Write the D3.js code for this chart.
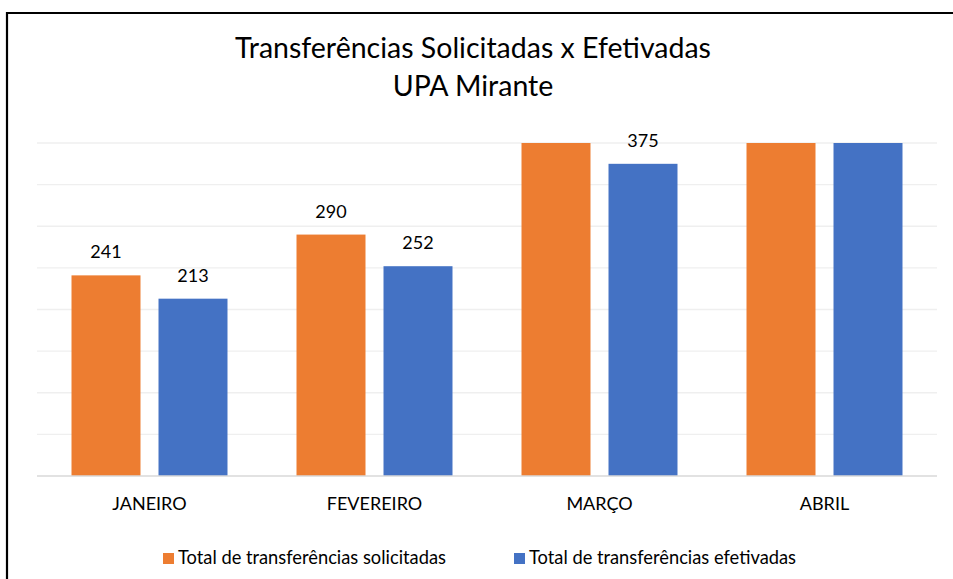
<!DOCTYPE html>
<html>
<head>
<meta charset="utf-8">
<script src="https://cdn.jsdelivr.net/npm/d3@7"></script>
<style>
  body { margin: 0; background: #fff; }
  svg text { font-family: Lato, "Open Sans", sans-serif; fill: #000; }
</style>
</head>
<body>
<div id="chart"></div>
<script>
var months = ['JANEIRO', 'FEVEREIRO', 'MARÇO', 'ABRIL'];
var seriesNames = ['Total de transferências solicitadas', 'Total de transferências efetivadas'];
// values beyond the axis max are cut off in the original, estimated
var solicitadas = [241, 290, 430, 440];
var efetivadas = [213, 252, 375, 425];
var yTicks = [0, 50, 100, 150, 200, 250, 300, 350, 400];
var colors = ['#ed7d31', '#4472c4'];

var width = 953;
var height = 579;
var margins = { top: 143, right: 16, bottom: 103, left: 37 };

var rows = months.map(function (m, i) {
  return { month: m, values: [solicitadas[i], efetivadas[i]] };
});

var svg = d3.select('#chart')
  .append('svg')
  .attr('width', width)
  .attr('height', height);

// outer frame (only left and top edges are inside the picture)
svg.append('path')
  .attr('d', 'M7,579 V13 H953')
  .attr('fill', 'none')
  .attr('stroke', '#000')
  .attr('stroke-width', 2.2);

var x0 = d3.scaleBand()
  .domain(months)
  .range([margins.left, width - margins.right])
  .padding(0);

var x1 = d3.scaleBand()
  .domain([0, 1])
  .range([0, x0.bandwidth()])
  .paddingInner(0.207)
  .paddingOuter(0.3966);

var y = d3.scaleLinear()
  .domain([0, 400])
  .range([height - margins.bottom, margins.top])
  .clamp(true);

// gridlines
svg.append('g')
  .selectAll('line')
  .data(yTicks.slice(1))
  .enter()
  .append('line')
  .attr('x1', margins.left)
  .attr('x2', width - margins.right)
  .attr('y1', d => y(d))
  .attr('y2', d => y(d))
  .attr('stroke', '#efefef')
  .attr('stroke-width', 1.3);

// title
var title = svg.append('text')
  .attr('x', 473)
  .attr('text-anchor', 'middle')
  .style('font-size', '28.5px');
title.append('tspan').attr('x', 473).attr('y', 58).text('Transferências Solicitadas x Efetivadas');
title.append('tspan').attr('x', 473).attr('y', 96).text('UPA Mirante');

// bars
var groups = svg.append('g')
  .selectAll('g')
  .data(rows)
  .enter()
  .append('g')
  .attr('transform', d => `translate(${x0(d.month)},0)`);

groups.selectAll('rect')
  .data(d => d.values.map((v, i) => ({ v, i })))
  .enter()
  .append('rect')
  .attr('x', d => x1(d.i))
  .attr('width', x1.bandwidth())
  .attr('y', d => y(d.v))
  .attr('height', d => y(0) - y(d.v))
  .attr('fill', d => colors[d.i]);

// data labels, hidden where the bar runs past the axis
groups.selectAll('.label')
  .data(d => d.values.map((v, i) => ({ v, i })).filter(d => d.v <= 400))
  .enter()
  .append('text')
  .attr('class', 'label')
  .attr('x', d => x1(d.i) + x1.bandwidth() / 2)
  .attr('y', d => y(d.v) - 17)
  .attr('text-anchor', 'middle')
  .style('font-size', '18px')
  .text(d => d.v);

// baseline
svg.append('line')
  .attr('x1', margins.left)
  .attr('x2', width - margins.right)
  .attr('y1', y(0))
  .attr('y2', y(0))
  .attr('stroke', '#d9d9d9')
  .attr('stroke-width', 1.5);

// x axis labels
svg.append('g')
  .selectAll('text')
  .data(months)
  .enter()
  .append('text')
  .attr('x', d => x0(d) + x0.bandwidth() / 2)
  .attr('y', 510)
  .attr('text-anchor', 'middle')
  .style('font-size', '18px')
  .text(d => d);

// legend
var legendX = [163, 514];
var legend = svg.append('g')
  .selectAll('g')
  .data(seriesNames)
  .enter()
  .append('g')
  .attr('transform', (d, i) => `translate(${legendX[i]},553)`);

legend.append('rect')
  .attr('width', 11)
  .attr('height', 11)
  .attr('fill', (d, i) => colors[i]);

legend.append('text')
  .attr('x', 15)
  .attr('y', 11)
  .style('font-size', '18.3px')
  .text(d => d);
</script>
</body>
</html>
